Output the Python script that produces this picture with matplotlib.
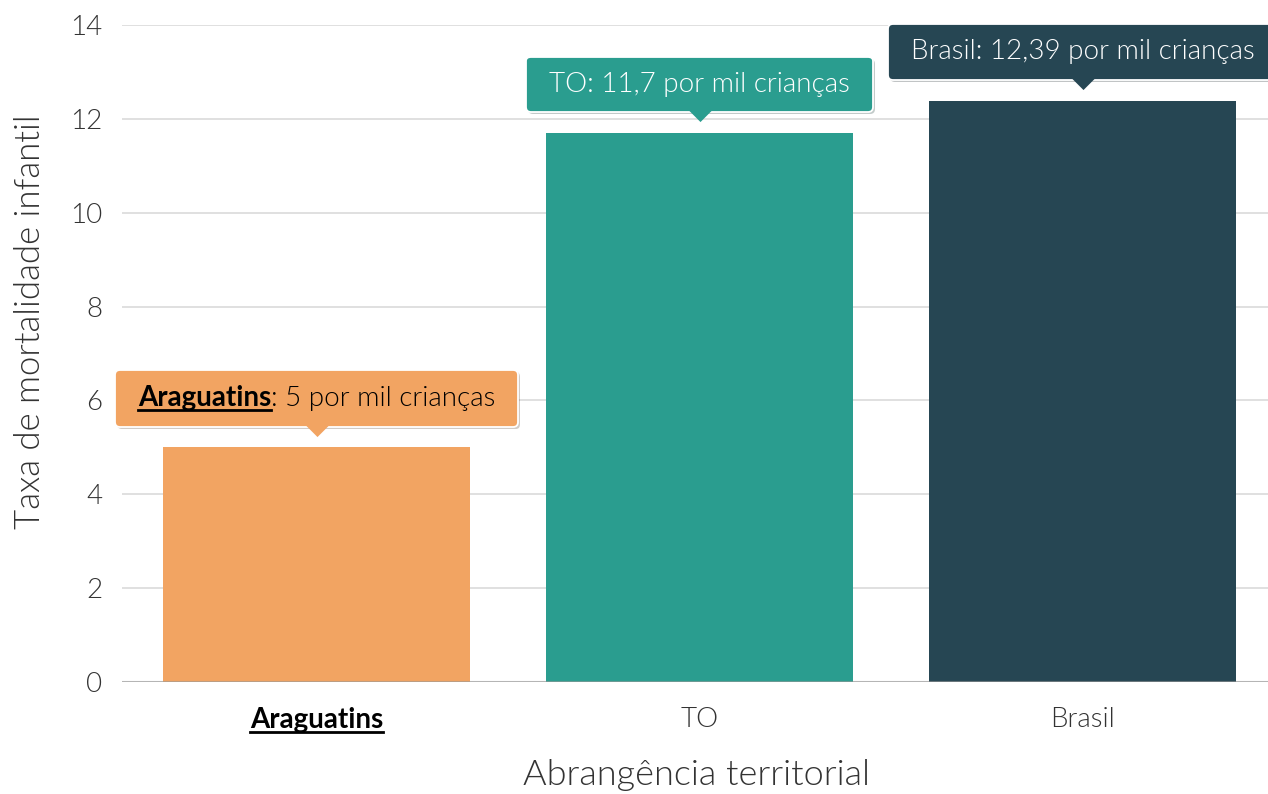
import matplotlib
matplotlib.use("Agg")
import matplotlib.pyplot as plt
import matplotlib.patheffects as pe
from matplotlib.offsetbox import AnnotationBbox, TextArea, HPacker, DrawingArea
from matplotlib.transforms import offset_copy, IdentityTransform
from matplotlib.lines import Line2D

# dados
territorios = ["Araguatins", "TO", "Brasil"]
taxas = [5, 11.7, 12.39]
rotulos_valor = ["5", "11,7", "12,39"]
cores = ["#F2A462", "#2A9D8F", "#264653"]
cor_texto_balao = ["black", "white", "white"]

plt.rcParams["font.family"] = ["Lato", "DejaVu Sans"]
LEVE = 300

fig = plt.figure(figsize=(12.68, 7.94), dpi=100)
ax = fig.add_axes([0.0962, 0.141, 0.9038, 0.8275])

x = list(range(len(territorios)))
ax.bar(x, taxas, width=0.8, color=cores, zorder=2)

ax.set_xlim(-0.508, 2.484)
ax.set_ylim(0, 14)
ax.set_yticks(range(0, 15, 2))
ax.grid(axis="y", color="#dddddd", linewidth=1.3, zorder=0)
ax.axhline(0, color="#999999", linewidth=1.5, alpha=0.6, zorder=3)
for s in ax.spines.values():
    s.set_visible(False)
ax.tick_params(axis="y", length=0, pad=14, labelsize=20, labelcolor="#333333")
ax.tick_params(axis="x", length=0, pad=18, labelsize=20, labelcolor="#333333")
for t in ax.get_yticklabels():
    t.set_fontweight(LEVE)

ax.set_xticks(x)
ax.set_xticklabels(territorios)
xlabels = ax.get_xticklabels()
for i, t in enumerate(xlabels):
    if i == 0:
        t.set_fontweight("bold")
        t.set_color("black")
    else:
        t.set_fontweight(LEVE)

ax.set_ylabel("Taxa de mortalidade infantil", fontsize=25, fontweight=LEVE,
              color="#333333")
ax.set_xlabel("Abrangência territorial", fontsize=26, fontweight=LEVE,
              color="#333333")
ax.yaxis.set_label_coords(-0.0803, 0.548)
ax.xaxis.set_label_coords(0.5017, -0.1416)
ax.yaxis.label.set_va("center")
ax.xaxis.label.set_va("center")

# balões com o valor de cada barra
caixas_negrito = []
for i, (nome, v) in enumerate(zip(territorios, taxas)):
    cor_txt = cor_texto_balao[i]
    if i == 0:
        parte1 = TextArea(nome, textprops=dict(fontsize=20, fontweight="bold", color=cor_txt))
        parte2 = TextArea(": " + rotulos_valor[i] + " por mil crianças",
                          textprops=dict(fontsize=20, fontweight=LEVE, color=cor_txt))
        filhos = [parte1, parte2]
        caixas_negrito.append(parte1)
    else:
        filhos = [TextArea(nome + ": " + rotulos_valor[i] + " por mil crianças",
                           textprops=dict(fontsize=20, fontweight=LEVE, color=cor_txt))]
    filhos = [DrawingArea(5.5, 0)] + filhos + [DrawingArea(5.5, 0)]
    conteudo = HPacker(children=filhos, pad=0, sep=0, align="baseline")
    ab = AnnotationBbox(conteudo, (i, v), xybox=(0, 26), boxcoords="offset points",
                        box_alignment=(0.5, 0), frameon=True,
                        bboxprops=dict(boxstyle="round,pad=1.1,rounding_size=0.35",
                                       fc=cores[i], ec="white", lw=1.3),
                        annotation_clip=False, zorder=5)
    ax.add_artist(ab)
    ab.patch.set_path_effects([pe.SimplePatchShadow(offset=(1.5, -1.5), alpha=0.25),
                               pe.Normal()])
    # ponteiro
    trans = offset_copy(ax.transData, fig=fig, y=12, units="points")
    ax.plot(i, v, marker=[(-1, 0.5), (1, 0.5), (0, -0.5)], markersize=16,
            color=cores[i], transform=trans, zorder=6, clip_on=False,
            markeredgewidth=0)

# sublinhado no nome do município
fig.canvas.draw()
renderer = fig.canvas.get_renderer()
alvos = [xlabels[0]] + [c._text for c in caixas_negrito]
for t in alvos:
    bb = t.get_window_extent(renderer)
    y = bb.y0 + 1
    fig.add_artist(Line2D([bb.x0, bb.x1], [y, y], color="black", linewidth=2,
                          transform=IdentityTransform(), zorder=10))

fig.savefig("out.png", dpi=100)
